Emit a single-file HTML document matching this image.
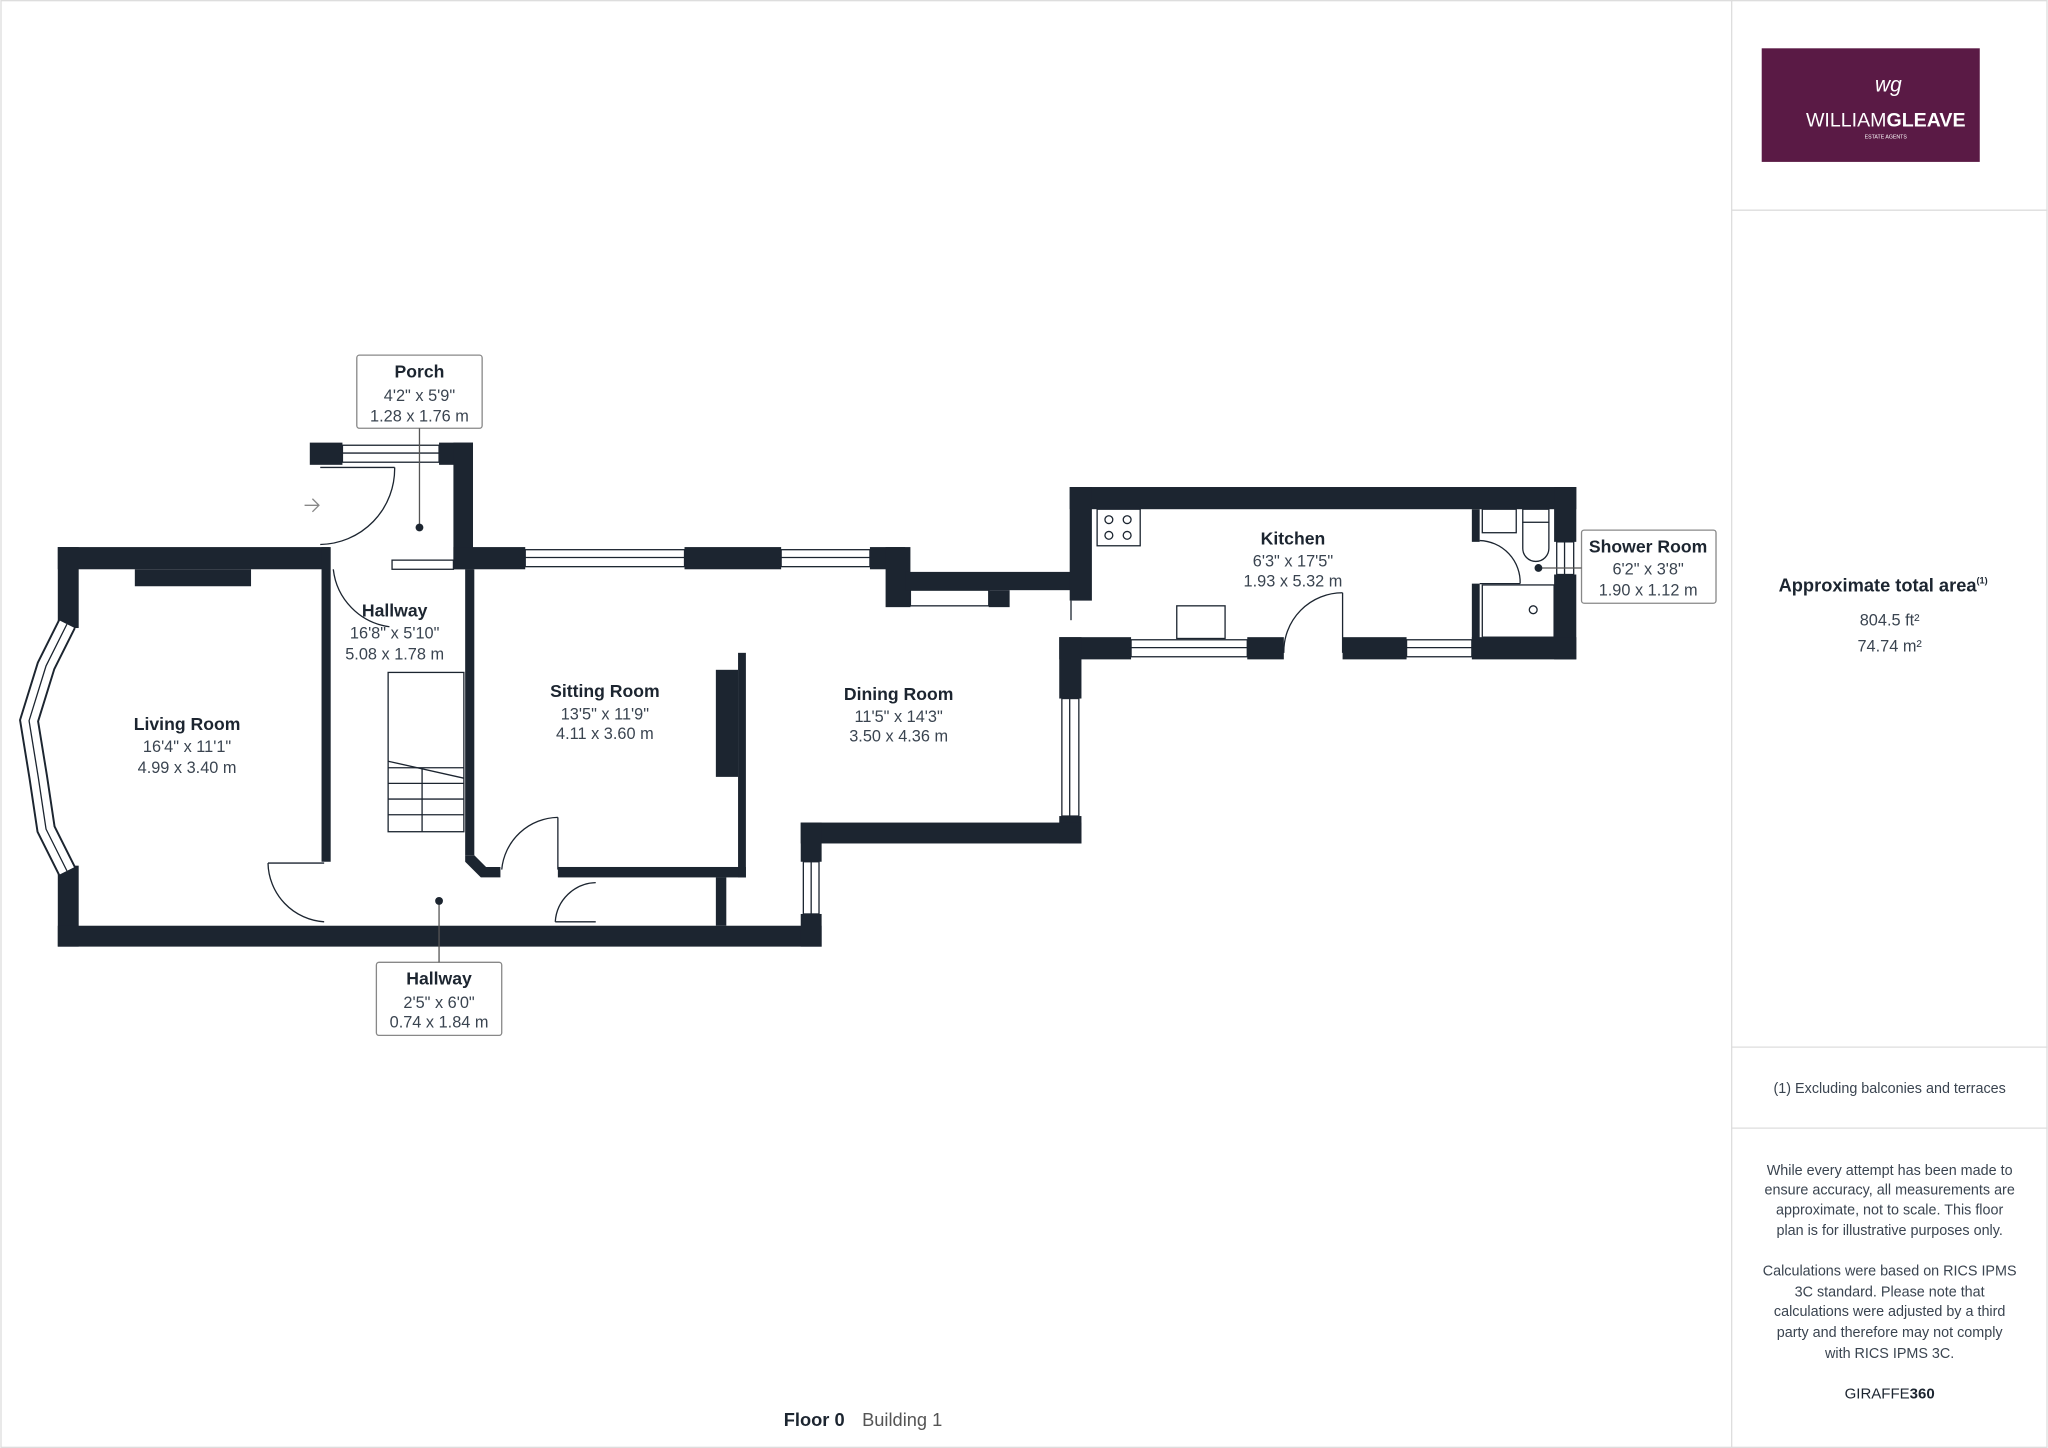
<!DOCTYPE html>
<html><head><meta charset="utf-8"><style>
html,body{margin:0;padding:0;background:#fff;}
svg{display:block}
text{font-family:"Liberation Sans",sans-serif;fill:#1c2530}
.n{font-weight:bold;font-size:13.5px}
.d{font-size:12.5px;fill:#3a4450}
.s{font-size:11px;fill:#3a4450}
</style></head><body>
<svg width="2048" height="1448" viewBox="0 0 1568 1109" xmlns="http://www.w3.org/2000/svg">
<rect x="0.5" y="0.5" width="1567" height="1108" fill="#fff" stroke="#ddd"/>
<line x1="1326" y1="0" x2="1326" y2="1109" stroke="#ddd"/>
<line x1="1326" y1="161" x2="1568" y2="161" stroke="#ddd"/>
<line x1="1326" y1="802" x2="1568" y2="802" stroke="#ddd"/>
<line x1="1326" y1="864" x2="1568" y2="864" stroke="#ddd"/>
<rect x="1349" y="37" width="167" height="87" fill="#5a1a45"/>
<text x="1446" y="70" text-anchor="middle" style="font-size:16px;fill:#fff;font-style:italic">wg</text>
<text x="1444" y="97" text-anchor="middle" style="font-size:15px;fill:#fff">WILLIAM<tspan font-weight="bold">GLEAVE</tspan></text>
<text x="1444" y="106" text-anchor="middle" style="font-size:4px;fill:#fff">ESTATE AGENTS</text>
<text x="1442" y="453" text-anchor="middle" style="font-size:14px;font-weight:bold">Approximate total area<tspan font-size="7" dy="-6">(1)</tspan></text>
<text x="1447" y="479" text-anchor="middle" class="d">804.5 ft²</text>
<text x="1447" y="499" text-anchor="middle" class="d">74.74 m²</text>
<text x="1447" y="837" text-anchor="middle" class="s">(1) Excluding balconies and terraces</text>
<g class="s" text-anchor="middle">
<text x="1447" y="900" class="s">While every attempt has been made to</text>
<text x="1447" y="915" class="s">ensure accuracy, all measurements are</text>
<text x="1447" y="930" class="s">approximate, not to scale. This floor</text>
<text x="1447" y="946" class="s">plan is for illustrative purposes only.</text>
<text x="1447" y="977" class="s">Calculations were based on RICS IPMS</text>
<text x="1447" y="993" class="s">3C standard. Please note that</text>
<text x="1447" y="1008" class="s">calculations were adjusted by a third</text>
<text x="1447" y="1024" class="s">party and therefore may not comply</text>
<text x="1447" y="1040" class="s">with RICS IPMS 3C.</text>
</g>
<text x="1447" y="1071" text-anchor="middle" style="font-size:11.5px">GIRAFFE<tspan font-weight="bold">360</tspan></text>
<text x="600" y="1092" style="font-size:14px;font-weight:bold">Floor 0</text>
<text x="660" y="1092" style="font-size:14px;fill:#555">Building 1</text>

<g fill="#1c2530">
<rect x="44" y="419" width="208" height="17"/>
<rect x="44" y="419" width="16" height="62"/>
<rect x="44" y="663" width="16" height="62"/>
<rect x="44" y="709" width="585" height="16"/>
<rect x="103" y="436" width="89" height="13"/>
<rect x="246" y="419" width="7" height="241"/>
<rect x="237" y="339" width="25" height="17"/>
<rect x="336" y="339" width="26" height="17"/>
<rect x="347" y="339" width="15" height="97"/>
<rect x="347" y="419" width="55" height="17"/>
<rect x="524" y="419" width="74" height="17"/>
<rect x="666" y="419" width="27" height="17"/>
<rect x="678" y="419" width="19" height="46"/>
<rect x="693" y="438" width="127" height="14"/>
<rect x="757" y="452" width="16" height="13"/>
<rect x="819" y="373" width="388" height="17"/>
<rect x="819" y="373" width="17" height="87"/>
<rect x="1190" y="373" width="17" height="42"/>
<rect x="1190" y="440" width="17" height="65"/>
<rect x="811" y="488" width="55" height="17"/>
<rect x="955" y="488" width="28" height="17"/>
<rect x="1028" y="488" width="49" height="17"/>
<rect x="1127" y="488" width="80" height="17"/>
<rect x="1127" y="390" width="6" height="25"/>
<rect x="1127" y="447" width="6" height="43"/>
<rect x="811" y="488" width="17" height="47"/>
<rect x="811" y="625" width="17" height="21"/>
<rect x="613" y="630" width="215" height="16"/>
<rect x="613" y="630" width="16" height="30"/>
<rect x="613" y="700" width="16" height="25"/>
<rect x="356" y="436" width="7" height="219"/>
<polygon points="356,655 363,655 372,664 383,664 383,672 368,672 356,660"/>
<rect x="427" y="664" width="144" height="8"/>
<rect x="565" y="500" width="6" height="172"/>
<rect x="548" y="513" width="17" height="82"/>
<rect x="548" y="672" width="8" height="37"/>
</g>
<g fill="none" stroke="#1c2530" stroke-width="1">
<polyline points="51,478 35,510 22,552 29,595 35,635 51,667" stroke-width="15" stroke="#1c2530"/>
<polyline points="51,478 35,510 22,552 29,595 35,635 51,667" stroke-width="12" stroke="#fff"/>
<polyline points="51,478 35,510 22,552 29,595 35,635 51,667" stroke-width="1"/>
<line x1="820" y1="460" x2="820" y2="475"/>
<rect x="262" y="341" width="74" height="13"/><line x1="262" y1="347" x2="336" y2="347"/>
<rect x="402" y="421" width="122" height="13"/><line x1="402" y1="427" x2="524" y2="427"/>
<rect x="598" y="421" width="68" height="13"/><line x1="598" y1="427" x2="666" y2="427"/>
<rect x="697" y="452" width="60" height="12"/>
<rect x="866" y="490" width="89" height="13"/><line x1="866" y1="496" x2="955" y2="496"/>
<rect x="1077" y="490" width="50" height="13"/><line x1="1077" y1="496" x2="1127" y2="496"/>
<rect x="1192" y="415" width="13" height="25"/><line x1="1198" y1="415" x2="1198" y2="440"/>
<rect x="813" y="535" width="13" height="90"/><line x1="819" y1="535" x2="819" y2="625"/>
<rect x="615" y="660" width="12" height="40"/><line x1="621" y1="660" x2="621" y2="700"/>
<line x1="245" y1="358" x2="302" y2="358"/><path d="M302,358 A58,58 0 0 1 245,417"/>
<path d="M255,436 A50,50 0 0 0 298,480"/>
<line x1="205" y1="661" x2="248" y2="661"/><path d="M205,661 A46,46 0 0 0 248,706"/>
<line x1="427" y1="626" x2="427" y2="666"/><path d="M427,626 A44,44 0 0 0 384,666"/>
<line x1="425" y1="706" x2="456" y2="706"/><path d="M456,676 A32,32 0 0 0 425,706"/>
<line x1="1028" y1="454" x2="1028" y2="500"/><path d="M1028,454 A45,45 0 0 0 983,500"/>
<path d="M1133,414 A32,32 0 0 1 1164,447"/><line x1="1133" y1="447" x2="1164" y2="447"/>
<rect x="297" y="515" width="58" height="122"/>
<line x1="297" y1="588" x2="355" y2="588"/><line x1="297" y1="600" x2="355" y2="600"/>
<line x1="297" y1="612" x2="355" y2="612"/><line x1="297" y1="624" x2="355" y2="624"/>
<line x1="297" y1="583" x2="355" y2="596"/><line x1="323" y1="588" x2="323" y2="637"/>
<rect x="300" y="429" width="47" height="7"/>
<rect x="840" y="390" width="33" height="28"/>
<circle cx="849" cy="398" r="3"/><circle cx="863" cy="398" r="3"/><circle cx="849" cy="410" r="3"/><circle cx="863" cy="410" r="3"/>
<rect x="901" y="464" width="37" height="25"/>
<rect x="1135" y="390" width="26" height="18"/>
<rect x="1166" y="390" width="20" height="10"/><path d="M1166,400 L1166,420 A10,10 0 0 0 1186,420 L1186,400"/>
<rect x="1135" y="448" width="55" height="40"/>
<circle cx="1174" cy="467" r="3"/>
<path d="M233,387 L244,387 M239,382 L244,387 L239,392" stroke="#888"/>
<rect x="273" y="272" width="96" height="56" rx="2" stroke="#888"/>
<line x1="321" y1="328" x2="321" y2="404" stroke="#555"/>
<rect x="288" y="737" width="96" height="56" rx="2" stroke="#888"/>
<line x1="336" y1="690" x2="336" y2="737" stroke="#555"/>
<rect x="1211" y="406" width="103" height="56" rx="2" stroke="#888"/>
<line x1="1178" y1="435" x2="1211" y2="435" stroke="#555"/>
</g>
<circle cx="321" cy="404" r="3" fill="#1c2530"/>
<circle cx="336" cy="690" r="3" fill="#1c2530"/>
<circle cx="1178" cy="435" r="3" fill="#1c2530"/>

<g text-anchor="middle">
<text x="321" y="289" class="n">Porch</text><text x="321" y="307" class="d">4'2" x 5'9"</text><text x="321" y="323" class="d">1.28 x 1.76 m</text>
<text x="336" y="754" class="n">Hallway</text><text x="336" y="772" class="d">2'5" x 6'0"</text><text x="336" y="787" class="d">0.74 x 1.84 m</text>
<text x="1262" y="423" class="n">Shower Room</text><text x="1262" y="440" class="d">6'2" x 3'8"</text><text x="1262" y="456" class="d">1.90 x 1.12 m</text>
<text x="143" y="559" class="n">Living Room</text><text x="143" y="576" class="d">16'4" x 11'1"</text><text x="143" y="592" class="d">4.99 x 3.40 m</text>
<text x="302" y="472" class="n">Hallway</text><text x="302" y="489" class="d">16'8" x 5'10"</text><text x="302" y="505" class="d">5.08 x 1.78 m</text>
<text x="463" y="534" class="n">Sitting Room</text><text x="463" y="551" class="d">13'5" x 11'9"</text><text x="463" y="566" class="d">4.11 x 3.60 m</text>
<text x="688" y="536" class="n">Dining Room</text><text x="688" y="553" class="d">11'5" x 14'3"</text><text x="688" y="568" class="d">3.50 x 4.36 m</text>
<text x="990" y="417" class="n">Kitchen</text><text x="990" y="434" class="d">6'3" x 17'5"</text><text x="990" y="449" class="d">1.93 x 5.32 m</text>
</g>
</svg>
</body></html>
